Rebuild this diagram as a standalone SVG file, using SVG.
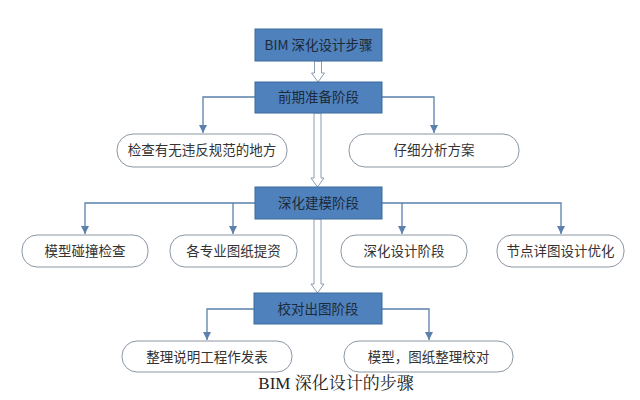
<svg xmlns="http://www.w3.org/2000/svg" width="640" height="400" viewBox="0 0 640 400">
<defs>
<style>
.box{fill:#4f81bd;stroke:#3d6a9c;stroke-width:1}
.pill{fill:#ffffff;stroke:#8a96a3;stroke-width:1}
.bt{font-family:"Noto Sans CJK SC","Liberation Sans",sans-serif;font-size:13.5px;fill:#1c2a3a;text-anchor:middle}
.nt{font-family:"Noto Sans CJK SC","Liberation Sans",sans-serif;font-size:13.5px;fill:#333333;text-anchor:middle}
.ln{fill:none;stroke:#5b80ab;stroke-width:1.3}
.hol{fill:#ffffff;stroke:#8a9bb0;stroke-width:1}
.cap{font-family:"Liberation Serif","Noto Serif CJK SC","Noto Sans CJK SC",serif;font-size:17px;fill:#222;text-anchor:middle}
</style>
<marker id="ah" viewBox="0 0 10 10" refX="10" refY="5" markerWidth="8" markerHeight="8" markerUnits="userSpaceOnUse" orient="auto">
<path d="M0,0 L10,5 L0,10 z" fill="#5b80ab"/>
</marker>
</defs>
<rect width="640" height="400" fill="#ffffff"/>
<g id="connectors">
<polygon class="hol" points="314.5,61 321.5,61 321.5,73 324.5,73 318,82 311.5,73 314.5,73"/>
<polygon class="hol" points="314,113 321,113 321,178 324,178 317.5,187 311,178 314,178"/>
<polygon class="hol" points="314,219 321,219 321,284 324,284 317.5,293 311,284 314,284"/>
<path class="ln" marker-end="url(#ah)" d="M255,97 H203 V133"/>
<path class="ln" marker-end="url(#ah)" d="M382,97 H434 V133"/>
<path class="ln" marker-end="url(#ah)" d="M255,203 H85 V234"/>
<path class="ln" marker-end="url(#ah)" d="M233,203 V234"/>
<path class="ln" marker-end="url(#ah)" d="M382,203 H561 V234"/>
<path class="ln" marker-end="url(#ah)" d="M402,203 V234"/>
<path class="ln" marker-end="url(#ah)" d="M254,309 H207 V340"/>
<path class="ln" marker-end="url(#ah)" d="M382,309 H429 V340"/>
</g>
<g id="n_top"><rect class="box" x="255" y="29" width="127" height="32"/><text class="bt" x="318.5" y="50">BIM 深化设计步骤</text></g>
<g id="n_prep"><rect class="box" x="255" y="82" width="127" height="31"/><text class="bt" x="318.5" y="102">前期准备阶段</text></g>
<g id="n_check"><rect class="pill" x="117" y="134" width="170" height="33" rx="16"/><text class="nt" x="202" y="155">检查有无违反规范的地方</text></g>
<g id="n_analyze"><rect class="pill" x="349" y="134" width="170" height="33" rx="16"/><text class="nt" x="434" y="155">仔细分析方案</text></g>
<g id="n_model"><rect class="box" x="255" y="187" width="127" height="32"/><text class="bt" x="318.5" y="208">深化建模阶段</text></g>
<g id="n_clash"><rect class="pill" x="22" y="235" width="126" height="32" rx="15"/><text class="nt" x="85" y="256">模型碰撞检查</text></g>
<g id="n_draw"><rect class="pill" x="170" y="235" width="127" height="32" rx="15"/><text class="nt" x="233.5" y="256">各专业图纸提资</text></g>
<g id="n_design"><rect class="pill" x="341" y="235" width="126" height="32" rx="15"/><text class="nt" x="404" y="256">深化设计阶段</text></g>
<g id="n_detail"><rect class="pill" x="497" y="235" width="127" height="32" rx="15"/><text class="nt" x="560.5" y="256">节点详图设计优化</text></g>
<g id="n_review"><rect class="box" x="254" y="293" width="128" height="31"/><text class="bt" x="318" y="313.5">校对出图阶段</text></g>
<g id="n_notes"><rect class="pill" x="122" y="341" width="170" height="31" rx="15"/><text class="nt" x="207" y="361.5">整理说明工程作发表</text></g>
<g id="n_verify"><rect class="pill" x="344" y="341" width="169" height="31" rx="15"/><text class="nt" x="428.5" y="361.5">模型，图纸整理校对</text></g>
<text class="cap" x="336" y="389">BIM 深化设计的步骤</text>
</svg>
